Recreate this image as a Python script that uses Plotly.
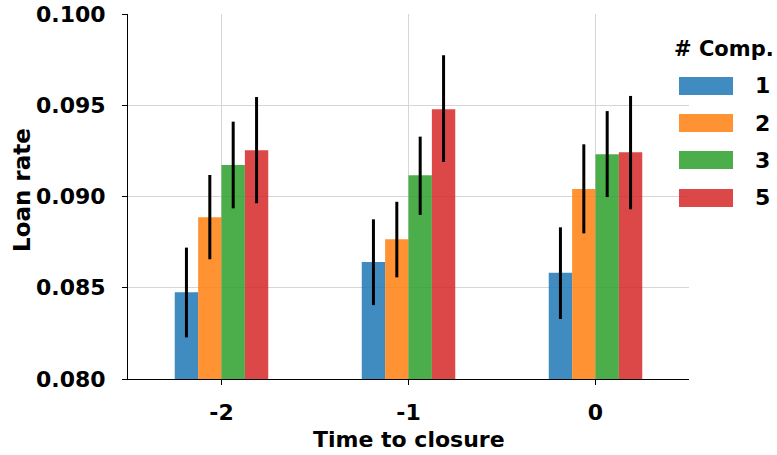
import plotly.graph_objects as go

# ---- data ----
x_groups = [-2, -1, 0]
x_ticktext = ["-2", "-1", "0"]
series_names = ["1", "2", "3", "5"]
values = {
    "1": [0.08475, 0.08641, 0.08582],
    "2": [0.08886, 0.08766, 0.09041],
    "3": [0.09173, 0.09116, 0.09231],
    "5": [0.09253, 0.09478, 0.09242],
}
err_upper = {
    "1": [0.08720, 0.08875, 0.08831],
    "2": [0.09118, 0.08971, 0.09286],
    "3": [0.09410, 0.09328, 0.09468],
    "5": [0.09545, 0.09774, 0.09551],
}
err_lower = {
    "1": [0.08228, 0.08405, 0.08329],
    "2": [0.08656, 0.08557, 0.08798],
    "3": [0.08935, 0.08899, 0.08997],
    "5": [0.08963, 0.09189, 0.08930],
}
y_ticks = [0.080, 0.085, 0.090, 0.095, 0.100]

colors = ["#1f77b4", "#ff7f0e", "#2ca02c", "#d62728"]
OPAC = 0.85
FONT = "DejaVu Sans"

fig = go.Figure()
for name, col in zip(series_names, colors):
    v = values[name]
    up = [u - a for u, a in zip(err_upper[name], v)]
    lo = [a - l for l, a in zip(err_lower[name], v)]
    fig.add_trace(go.Bar(
        x=x_groups, y=v, name=name,
        marker=dict(color=col, opacity=OPAC, line=dict(width=0)),
        error_y=dict(type="data", array=up, arrayminus=lo, symmetric=False,
                     color="black", thickness=3, width=0),
        showlegend=False,
    ))

# custom legend (large swatches like the reference)
PW, PH = 561, 365
sw_x0, sw_x1 = (679 - 128) / PW, (733 - 128) / PW
lab_x = (753 - 128) / PW
item_y_px = [86, 123, 160, 198]
shapes = []
annos = []
for name, col, ypx in zip(series_names, colors, item_y_px):
    yc = (379 - ypx) / PH
    shapes.append(dict(type="rect", xref="paper", yref="paper",
                       x0=sw_x0, x1=sw_x1, y0=yc - 9 / PH, y1=yc + 9 / PH,
                       fillcolor=col, opacity=OPAC, line=dict(width=0), layer="above"))
    annos.append(dict(xref="paper", yref="paper", x=lab_x, y=yc, text=name,
                      showarrow=False, xanchor="left", yanchor="middle",
                      font=dict(family=FONT, size=22, color="black", weight="bold")))
annos.append(dict(xref="paper", yref="paper", x=(672 - 128) / PW, y=(379 - 49) / PH,
                  text="# Comp.", showarrow=False, xanchor="left", yanchor="middle",
                  font=dict(family=FONT, size=21, color="black", weight="bold")))
# axis titles
annos.append(dict(xref="paper", yref="paper", x=(409 - 128) / PW, y=(379 - 439) / PH,
                  text="Time to closure", showarrow=False, xanchor="center", yanchor="middle",
                  font=dict(family=FONT, size=22, color="black", weight="bold")))
annos.append(dict(xref="paper", yref="paper", x=(22 - 128) / PW, y=(379 - 190) / PH,
                  text="Loan rate", showarrow=False, xanchor="center", yanchor="middle",
                  textangle=-90,
                  font=dict(family=FONT, size=23, color="black", weight="bold")))

fig.update_layout(
    width=777, height=455,
    margin=dict(l=128, r=88, t=14, b=76),
    paper_bgcolor="white", plot_bgcolor="white",
    barmode="group", bargap=0.5, bargroupgap=0,
    font=dict(family=FONT, size=22, color="black", weight="bold"),
    shapes=shapes, annotations=annos,
    xaxis=dict(
        range=[-2.5, 0.5], tickvals=x_groups, ticktext=x_ticktext,
        showgrid=True, gridcolor="#d6d6d6", gridwidth=1,
        showline=True, linecolor="black", linewidth=1,
        ticks="outside", ticklen=5, tickcolor="black", ticklabelstandoff=9,
        zeroline=False, automargin=False,
        tickfont=dict(family=FONT, size=22, weight="bold"),
    ),
    yaxis=dict(
        range=[0.08, 0.1], tickvals=y_ticks, tickformat=".3f",
        showgrid=True, gridcolor="#d6d6d6", gridwidth=1,
        showline=True, linecolor="black", linewidth=1,
        ticks="outside", ticklen=5, tickcolor="black", ticklabelstandoff=12,
        zeroline=False, automargin=False,
        tickfont=dict(family=FONT, size=22, weight="bold"),
    ),
)

fig.write_html("out.html")
